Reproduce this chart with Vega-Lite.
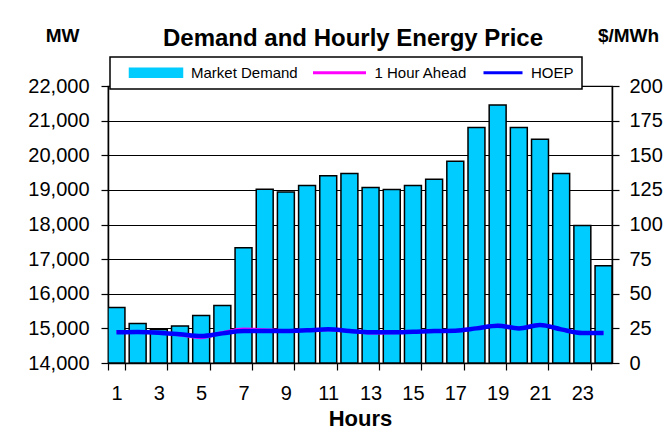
{
  "$schema": "https://vega.github.io/schema/vega-lite/v6.json",
  "width": 504,
  "height": 277,
  "autosize": {"type": "none"},
  "padding": {"left": 108, "top": 86, "right": 58, "bottom": 84},
  "background": "white",
  "title": {
    "text": "Demand and Hourly Energy Price",
    "font": "Liberation Sans",
    "fontSize": 24,
    "fontWeight": "bold",
    "color": "black",
    "anchor": "middle",
    "frame": "group",
    "dx": -7,
    "dy": 25,
    "offset": 0
  },
  "datasets": {
    "demand": [
      {"hour": 1, "mw": 15600}, {"hour": 2, "mw": 15140}, {"hour": 3, "mw": 14970},
      {"hour": 4, "mw": 15070}, {"hour": 5, "mw": 15370}, {"hour": 6, "mw": 15660},
      {"hour": 7, "mw": 17330}, {"hour": 8, "mw": 19020}, {"hour": 9, "mw": 18940},
      {"hour": 10, "mw": 19125}, {"hour": 11, "mw": 19410}, {"hour": 12, "mw": 19470},
      {"hour": 13, "mw": 19070}, {"hour": 14, "mw": 19010}, {"hour": 15, "mw": 19125},
      {"hour": 16, "mw": 19310}, {"hour": 17, "mw": 19830}, {"hour": 18, "mw": 20800},
      {"hour": 19, "mw": 21450}, {"hour": 20, "mw": 20800}, {"hour": 21, "mw": 20465},
      {"hour": 22, "mw": 19470}, {"hour": 23, "mw": 17970}, {"hour": 24, "mw": 16810}
    ],
    "prices": [
      {"hour": 1, "series": "1 Hour Ahead", "price": 22.5},
      {"hour": 2, "series": "1 Hour Ahead", "price": 22.6},
      {"hour": 3, "series": "1 Hour Ahead", "price": 21.8},
      {"hour": 4, "series": "1 Hour Ahead", "price": 20.3},
      {"hour": 5, "series": "1 Hour Ahead", "price": 18.3},
      {"hour": 6, "series": "1 Hour Ahead", "price": 22.0},
      {"hour": 7, "series": "1 Hour Ahead", "price": 24.6},
      {"hour": 8, "series": "1 Hour Ahead", "price": 24.0},
      {"hour": 9, "series": "1 Hour Ahead", "price": 23.4},
      {"hour": 10, "series": "1 Hour Ahead", "price": 23.6},
      {"hour": 11, "series": "1 Hour Ahead", "price": 24.0},
      {"hour": 12, "series": "1 Hour Ahead", "price": 23.3},
      {"hour": 13, "series": "1 Hour Ahead", "price": 21.6},
      {"hour": 14, "series": "1 Hour Ahead", "price": 21.8},
      {"hour": 15, "series": "1 Hour Ahead", "price": 22.5},
      {"hour": 16, "series": "1 Hour Ahead", "price": 23.0},
      {"hour": 17, "series": "1 Hour Ahead", "price": 23.2},
      {"hour": 18, "series": "1 Hour Ahead", "price": 25.2},
      {"hour": 19, "series": "1 Hour Ahead", "price": 27.3},
      {"hour": 20, "series": "1 Hour Ahead", "price": 25.2},
      {"hour": 21, "series": "1 Hour Ahead", "price": 27.8},
      {"hour": 22, "series": "1 Hour Ahead", "price": 24.0},
      {"hour": 23, "series": "1 Hour Ahead", "price": 21.8},
      {"hour": 24, "series": "1 Hour Ahead", "price": 21.7},
      {"hour": 1, "series": "HOEP", "price": 22.2},
      {"hour": 2, "series": "HOEP", "price": 22.4},
      {"hour": 3, "series": "HOEP", "price": 21.9},
      {"hour": 4, "series": "HOEP", "price": 20.7},
      {"hour": 5, "series": "HOEP", "price": 19.5},
      {"hour": 6, "series": "HOEP", "price": 21.4},
      {"hour": 7, "series": "HOEP", "price": 23.1},
      {"hour": 8, "series": "HOEP", "price": 23.1},
      {"hour": 9, "series": "HOEP", "price": 23.1},
      {"hour": 10, "series": "HOEP", "price": 23.6},
      {"hour": 11, "series": "HOEP", "price": 24.3},
      {"hour": 12, "series": "HOEP", "price": 23.1},
      {"hour": 13, "series": "HOEP", "price": 22.2},
      {"hour": 14, "series": "HOEP", "price": 22.2},
      {"hour": 15, "series": "HOEP", "price": 22.6},
      {"hour": 16, "series": "HOEP", "price": 23.1},
      {"hour": 17, "series": "HOEP", "price": 23.3},
      {"hour": 18, "series": "HOEP", "price": 25.0},
      {"hour": 19, "series": "HOEP", "price": 26.9},
      {"hour": 20, "series": "HOEP", "price": 25.0},
      {"hour": 21, "series": "HOEP", "price": 27.4},
      {"hour": 22, "series": "HOEP", "price": 24.3},
      {"hour": 23, "series": "HOEP", "price": 21.7},
      {"hour": 24, "series": "HOEP", "price": 21.7}
    ]
  },
  "resolve": {"scale": {"y": "independent"}},
  "encoding": {
    "x": {
      "field": "hour",
      "type": "ordinal",
      "sort": "ascending",
      "scale": {"paddingInner": 0.2, "paddingOuter": 0},
      "axis": {
        "labelAngle": 0,
        "labelExpr": "datum.value % 2 == 1 ? datum.label : ''",
        "tickBand": "extent",
        "tickOpacity": {"condition": {"test": "datum.value % 2 === 0", "value": 0}, "value": 1},
        "title": "Hours",
        "titleFontSize": 22,
        "titleFontWeight": "bold",
        "titlePadding": 5,
        "labelFontSize": 20,
        "tickSize": 7,
        "labelPadding": 13,
        "grid": false
      }
    }
  },
  "layer": [
    {
      "data": {"name": "demand"},
      "mark": {"type": "bar", "fill": "#00CCFF", "stroke": "black", "strokeWidth": 1.5, "clip": true},
      "encoding": {
        "y": {
          "field": "mw",
          "type": "quantitative",
          "scale": {"domain": [14000, 22000], "zero": false, "nice": false},
          "axis": {
            "orient": "left",
            "values": [14000, 15000, 16000, 17000, 18000, 19000, 20000, 21000, 22000],
            "format": ",.0f",
            "grid": true,
            "gridColor": "black",
            "gridWidth": 1.2,
            "gridOpacity": 1,
            "title": "MW",
            "titleAngle": 0,
            "titleX": -46,
            "titleY": -51,
            "titleAlign": "center",
            "titleBaseline": "middle",
            "titleFontSize": 19,
            "titleFontWeight": "bold",
            "labelFontSize": 20,
            "tickSize": 7,
            "labelPadding": 12
          }
        },
        "y2": {"datum": 14000}
      }
    },
    {
      "data": {"name": "prices"},
      "mark": {"type": "line", "interpolate": "monotone"},
      "encoding": {
        "y": {
          "field": "price",
          "type": "quantitative",
          "scale": {"domain": [0, 200], "nice": false},
          "axis": {
            "orient": "right",
            "values": [0, 25, 50, 75, 100, 125, 150, 175, 200],
            "format": ".0f",
            "grid": false,
            "title": "$/MWh",
            "titleAngle": 0,
            "titleX": 16,
            "titleY": -51,
            "titleAlign": "center",
            "titleBaseline": "middle",
            "titleFontSize": 19,
            "titleFontWeight": "bold",
            "labelFontSize": 20,
            "tickSize": 7,
            "labelPadding": 10
          }
        },
        "color": {
          "field": "series",
          "type": "nominal",
          "scale": {"domain": ["Market Demand", "1 Hour Ahead", "HOEP"], "range": ["#00CCFF", "#FF00FF", "#0000FF"]},
          "legend": {
            "orient": "none",
            "legendX": 2,
            "legendY": -29,
            "direction": "horizontal",
            "title": null,
            "padding": 8,
            "strokeColor": "black",
            "fillColor": "white",
            "symbolSize": 100,
            "labelOffset": 58,
            "columnPadding": 3.5,
            "labelFont": "Liberation Sans",
            "labelFontSize": 15,
            "labelColor": "black",
            "labelExpr": "datum.label == 'HOEP' ? 'HOEP\u00a0\u00a0\u00a0\u00a0\u00a0\u00a0\u00a0\u00a0\u00a0\u00a0\u00a0\u00a0\u00a0\u00a0\u00a0\u00a0\u00a0\u00a0\u00a0' : datum.label",
            "encode": {
              "legend": {"update": {"stroke": {"value": "black"}, "strokeWidth": {"value": 1.5}, "fill": {"value": "white"}}},
              "labels": {"update": {"dx": {"signal": "datum.value == 'HOEP' ? -13 : 0"}}},
              "symbols": {
                "update": {
                  "shape": {"signal": "datum.value == 'Market Demand' ? 'M0.8,-0.9H11.4V0.9H0.8Z' : (datum.value == 'HOEP' ? 'M1.0,0H8.8' : 'M0.8,0H11.4')"},
                  "fill": {"signal": "datum.value == 'Market Demand' ? '#00CCFF' : 'transparent'"},
                  "stroke": {"signal": "datum.value == 'Market Demand' ? 'black' : (datum.value == 'HOEP' ? '#0000FF' : '#FF00FF')"},
                  "strokeWidth": {"signal": "datum.value == 'Market Demand' ? 1.5 : 3"},
                  "opacity": {"value": 1}
                }
              }
            }
          }
        },
        "strokeWidth": {
          "field": "series",
          "type": "nominal",
          "scale": {"domain": ["1 Hour Ahead", "HOEP"], "range": [3, 4.5]},
          "legend": null
        }
      }
    }
  ],
  "config": {
    "font": "Liberation Sans",
    "view": {"stroke": "black", "strokeWidth": 1.2},
    "axis": {
      "domainColor": "black",
      "domainWidth": 1.5,
      "tickColor": "black",
      "tickWidth": 1.2,
      "labelColor": "black",
      "titleColor": "black",
      "labelFont": "Liberation Sans",
      "titleFont": "Liberation Sans"
    }
  }
}
